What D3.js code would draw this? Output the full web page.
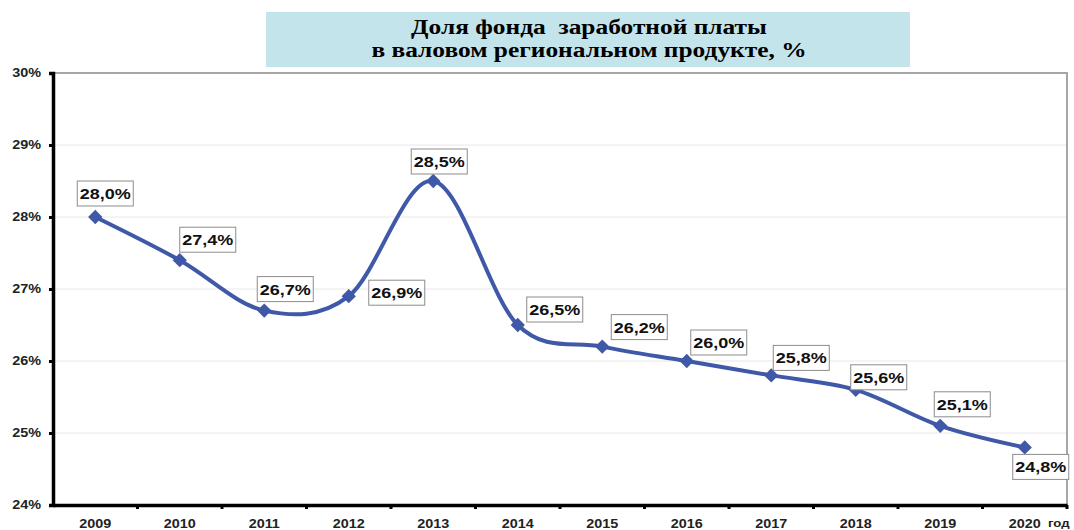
<!DOCTYPE html>
<html><head><meta charset="utf-8">
<script src="https://cdn.jsdelivr.net/npm/d3@7/dist/d3.min.js"></script>
<style>body{margin:0;background:#fff}svg{display:block}</style>
</head><body>
<svg id="c" width="1074" height="530"></svg>
<script>
const years = ["2009","2010","2011","2012","2013","2014","2015","2016","2017","2018","2019","2020"];
const values = [28.0, 27.4, 26.7, 26.9, 28.5, 26.5, 26.2, 26.0, 25.8, 25.6, 25.1, 24.8];
const valueLabels = ["28,0%","27,4%","26,7%","26,9%","28,5%","26,5%","26,2%","26,0%","25,8%","25,6%","25,1%","24,8%"];
const yTicks = [24,25,26,27,28,29,30];
const titleLines = ["Доля фонда\u00a0\u00a0заработной платы","в валовом региональном продукте, %"];
const axisUnit = "год";
// label offsets relative to point (dx, dy) of box center
const labelOffsets = [[10,-24],[28,-21],[21,-22],[48,-4],[6,-20],[37,-16],[37,-20],[32,-19],[30,-18],[23,-13],[22,-22],[16,19]];

const SX = 1.2; // horizontal stretch of the reference's lettering
const sans = "'Liberation Sans',Arial,sans-serif";
const svg = d3.select("#c");
const L = 53, R = 1067, T = 73, B = 505;
const x = d3.scaleBand().domain(years).range([L, R]);
const y = d3.scaleLinear().domain([24, 30]).range([B, T]);

function stretch(sel){
  sel.each(function(){
    const t = d3.select(this);
    const xx = +t.attr("x") || 0, yy = +t.attr("y") || 0;
    t.attr("x",0).attr("y",0).attr("transform",`translate(${xx},${yy}) scale(${SX},1)`);
  });
}

// title box
svg.append("rect").attr("x",266).attr("y",12).attr("width",644).attr("height",55).attr("fill","#c2e4ea");
svg.selectAll("text.title").data(titleLines).enter().append("text")
  .attr("x",589).attr("y",(d,i)=>34+i*23).attr("text-anchor","middle")
  .attr("font-family","'Liberation Serif','Times New Roman',serif").attr("font-weight","bold")
  .attr("font-size","20px").attr("fill","#000").text(d=>d)
  .each(function(){ const t=d3.select(this); const xx=+t.attr("x"), yy=+t.attr("y");
    t.attr("x",0).attr("y",0).attr("transform",`translate(${xx},${yy}) scale(1.27,1)`); });

// gridlines
svg.append("g").selectAll("line").data(yTicks.filter(d=>d>24 && d<30)).enter().append("line")
  .attr("x1",L).attr("x2",R).attr("y1",d=>y(d)).attr("y2",d=>y(d))
  .attr("stroke","#e8e8e8").attr("stroke-width",1);

// border top/right
svg.append("path").attr("d",`M${L},${y(30)}H${R}V${B}`).attr("fill","none")
  .attr("stroke","#a6a6a6").attr("stroke-width",2);

// y axis
const yAxis = d3.axisLeft(y).tickValues(yTicks).tickFormat(d=>d+"%").tickSize(4).tickPadding(8);
const gy = svg.append("g").attr("transform",`translate(${L},0)`).call(yAxis);
gy.select(".domain").attr("stroke","#000").attr("stroke-width",3.5);
gy.selectAll(".tick line").attr("stroke","#000").attr("stroke-width",3);
gy.selectAll("text").attr("font-family",sans).attr("font-weight","bold")
  .attr("font-size","12px").attr("fill","#222").call(stretch);

// x axis
const xAxis = d3.axisBottom(x).tickSize(0).tickPadding(14);
const gx = svg.append("g").attr("transform",`translate(0,${B})`).call(xAxis);
gx.select(".domain").attr("stroke","#000").attr("stroke-width",3.5);
gx.selectAll("text").attr("font-family",sans).attr("font-weight","bold")
  .attr("font-size","12px").attr("fill","#222").call(stretch);
// boundary ticks
svg.append("g").selectAll("line").data(years.slice(1).concat(["end"])).enter().append("line")
  .attr("x1",d=>d==="end"?R:x(d)).attr("x2",d=>d==="end"?R:x(d))
  .attr("y1",B).attr("y2",B+4).attr("stroke","#000").attr("stroke-width",3);
svg.append("text").attr("x",1048).attr("y",527).attr("font-family",sans)
  .attr("font-weight","bold").attr("font-size","11px").attr("fill","#222").text(axisUnit).call(stretch);

// line
const pts = years.map((d,i)=>[x(d)+x.bandwidth()/2, y(values[i])]);
svg.append("path").datum(pts).attr("d",d3.line().curve(d3.curveCardinal.tension(0)))
  .attr("fill","none").attr("stroke","#3f58a8").attr("stroke-width",4).attr("stroke-linejoin","round");

// markers
svg.append("g").selectAll("path").data(pts).enter().append("path")
  .attr("d",d3.symbol().type(d3.symbolDiamond2).size(130))
  .attr("transform",d=>`translate(${d[0]},${d[1]})`).attr("fill","#3f58a8");

// labels
const lg = svg.append("g").selectAll("g").data(pts).enter().append("g")
  .attr("transform",(d,i)=>`translate(${d[0]+labelOffsets[i][0]},${d[1]+labelOffsets[i][1]})`);
lg.append("rect").attr("x",-28).attr("y",-12).attr("width",56).attr("height",25)
  .attr("fill","#fff").attr("stroke","#8c8c8c").attr("stroke-width",1);
lg.append("text").attr("text-anchor","middle").attr("y",6)
  .attr("font-family",sans).attr("font-weight","bold")
  .attr("font-size","15px").attr("fill","#111").text((d,i)=>valueLabels[i]).call(stretch);
</script>
</body></html>
